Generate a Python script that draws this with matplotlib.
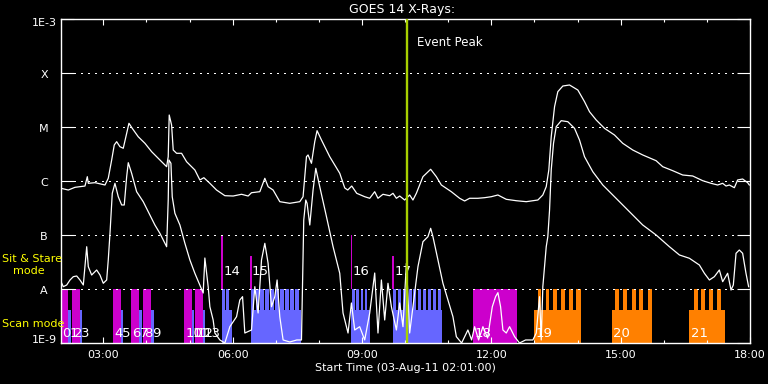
import matplotlib
matplotlib.use("Agg")
import matplotlib.pyplot as plt
from matplotlib.ticker import FixedLocator, NullLocator, FixedFormatter
import numpy as np

# ------------------------------------------------------------------ data
# GOES 14 long channel (1-8 A): decimal hours UT on 03-Aug-2011, log10 flux (W/m^2)
long_t = [2.017, 2.186, 2.341, 2.573, 2.627, 2.650, 2.805, 3.037, 3.113, 3.192,
          3.252, 3.308, 3.384, 3.461, 3.540, 3.593, 3.669, 3.808, 3.964, 4.119,
          4.311, 4.467, 4.504, 4.527, 4.582, 4.620, 4.698, 4.814, 4.930, 5.122,
          5.238, 5.331, 5.470, 5.625, 5.818, 6.010, 6.205, 6.358, 6.436, 6.629,
          6.745, 6.821, 6.937, 7.092, 7.324, 7.556, 7.632, 7.711, 7.748, 7.827,
          7.903, 7.957, 8.059, 8.251, 8.483, 8.599, 8.668, 8.761, 8.877, 9.062,
          9.178, 9.294, 9.370, 9.486, 9.641, 9.718, 9.797, 9.873, 9.989, 10.105,
          10.181, 10.260, 10.413, 10.592, 10.724, 10.840, 11.071, 11.264, 11.380, 11.496,
          11.688, 11.843, 11.998, 12.151, 12.346, 12.578, 12.810, 13.079, 13.194, 13.273,
          13.333, 13.389, 13.466, 13.542, 13.658, 13.813, 14.006, 14.161, 14.277, 14.432,
          14.624, 14.856, 15.048, 15.280, 15.512, 15.822, 15.975, 16.207, 16.439, 16.670,
          16.902, 17.097, 17.250, 17.366, 17.444, 17.521, 17.637, 17.713, 17.829, 17.945, 17.984]
long_logf = [-6.135, -6.167, -6.117, -6.093, -5.920, -6.043, -6.031, -6.074, -5.950, -5.611,
             -5.333, -5.272, -5.365, -5.394, -5.117, -4.931, -5.024, -5.180, -5.302, -5.457,
             -5.611, -5.735, -5.550, -4.778, -4.963, -5.426, -5.487, -5.487, -5.643, -5.796,
             -5.981, -5.939, -6.043, -6.167, -6.272, -6.278, -6.246, -6.278, -6.217, -6.198,
             -5.950, -6.105, -6.167, -6.383, -6.413, -6.383, -6.291, -5.550, -5.518, -5.672,
             -5.272, -5.068, -5.241, -5.550, -5.857, -6.129, -6.167, -6.093, -6.228, -6.291,
             -6.320, -6.198, -6.320, -6.246, -6.272, -6.228, -6.320, -6.278, -6.352, -6.259,
             -6.352, -6.228, -5.920, -5.783, -5.920, -6.074, -6.198, -6.320, -6.370, -6.320,
             -6.320, -6.309, -6.291, -6.259, -6.339, -6.365, -6.383, -6.352, -6.259, -6.105,
             -5.796, -5.180, -4.624, -4.346, -4.241, -4.222, -4.315, -4.531, -4.717, -4.870,
             -5.024, -5.148, -5.302, -5.426, -5.518, -5.624, -5.735, -5.809, -5.889, -5.907,
             -5.994, -6.043, -6.074, -6.043, -6.093, -6.074, -6.124, -5.981, -5.963, -6.031, -6.074]

# GOES 14 short channel (0.5-4 A)
short_t = [2.017, 2.070, 2.149, 2.226, 2.302, 2.381, 2.457, 2.534, 2.613, 2.650,
           2.728, 2.844, 2.921, 2.997, 3.076, 3.113, 3.153, 3.206, 3.268, 3.345,
           3.424, 3.484, 3.540, 3.577, 3.655, 3.771, 3.924, 4.040, 4.195, 4.311,
           4.427, 4.467, 4.504, 4.520, 4.567, 4.597, 4.659, 4.775, 4.891, 5.007,
           5.122, 5.238, 5.315, 5.354, 5.431, 5.470, 5.546, 5.586, 5.702, 5.818,
           5.934, 6.089, 6.165, 6.228, 6.281, 6.436, 6.513, 6.589, 6.668, 6.745,
           6.821, 6.900, 6.976, 7.030, 7.092, 7.169, 7.324, 7.486, 7.595, 7.648,
           7.695, 7.725, 7.788, 7.864, 7.927, 8.019, 8.175, 8.328, 8.483, 8.559,
           8.675, 8.754, 8.830, 8.946, 9.062, 9.178, 9.294, 9.370, 9.449, 9.526,
           9.602, 9.681, 9.797, 9.873, 9.950, 10.029, 10.105, 10.181, 10.297, 10.413,
           10.529, 10.592, 10.645, 10.761, 10.877, 10.993, 11.109, 11.188, 11.310, 11.456,
           11.542, 11.612, 11.704, 11.804, 11.913, 12.022, 12.098, 12.152, 12.214, 12.268,
           12.346, 12.423, 12.539, 12.654, 12.794, 12.963, 13.042, 13.118, 13.157, 13.194,
           13.273, 13.310, 13.350, 13.389, 13.442, 13.505, 13.621, 13.774, 13.929, 14.045,
           14.161, 14.353, 14.585, 14.817, 15.048, 15.280, 15.512, 15.822, 16.131, 16.363,
           16.594, 16.826, 16.942, 17.058, 17.173, 17.289, 17.366, 17.481, 17.560, 17.613,
           17.676, 17.752, 17.829, 17.907, 17.968]
short_logf = [-7.865, -7.957, -7.926, -7.833, -7.772, -7.759, -7.833, -7.926, -7.217, -7.587,
              -7.741, -7.648, -7.741, -7.894, -7.833, -7.463, -6.969, -6.228, -6.043, -6.291,
              -6.444, -6.444, -5.920, -5.661, -5.857, -6.198, -6.383, -6.568, -6.815, -6.969,
              -7.154, -7.217, -6.352, -5.611, -5.672, -6.291, -6.598, -6.815, -7.154, -7.463,
              -7.709, -7.926, -8.074, -7.426, -7.957, -8.328, -8.574, -8.815, -8.944, -9.000,
              -8.698, -8.513, -8.204, -8.142, -8.815, -8.759, -7.957, -8.444, -7.463, -7.154,
              -7.524, -8.328, -8.142, -7.833, -8.513, -8.944, -8.981, -8.944, -8.944, -6.722,
              -6.352, -6.413, -6.815, -6.167, -5.765, -6.105, -6.661, -7.217, -7.709, -8.444,
              -8.815, -8.259, -8.759, -8.698, -8.944, -8.444, -7.704, -8.815, -7.833, -8.574,
              -7.894, -8.328, -8.759, -8.259, -8.698, -7.524, -8.815, -8.328, -7.587, -7.124,
              -7.031, -6.876, -7.031, -7.463, -7.894, -8.204, -8.513, -8.883, -9.000, -8.759,
              -8.944, -8.698, -8.944, -8.698, -8.907, -8.328, -8.142, -8.068, -8.328, -8.759,
              -8.815, -8.698, -8.883, -9.000, -8.944, -8.944, -8.815, -8.142, -8.944, -7.957,
              -7.217, -7.031, -6.537, -5.796, -5.302, -4.994, -4.883, -4.902, -5.024, -5.241,
              -5.550, -5.828, -6.074, -6.259, -6.444, -6.630, -6.815, -7.000, -7.217, -7.370,
              -7.431, -7.556, -7.709, -7.833, -7.772, -7.648, -7.865, -7.709, -8.019, -7.926,
              -7.339, -7.278, -7.339, -7.709, -7.957]

# Observations (numbered 0..21): start / end (decimal hours) and mode
obs_num = list(range(22))
obs_start = [2.017, 2.186, 2.279, 2.450, 3.229, 3.407, 3.639, 3.825, 3.917, 4.096,
             4.874, 5.046, 5.122, 5.301, 5.748, 6.413, 8.754, 9.718, 11.572, 12.986,
             14.793, 16.594]
obs_end = [2.186, 2.242, 2.450, 2.497, 3.407, 3.461, 3.825, 3.887, 4.096, 4.165,
           5.046, 5.110, 5.301, 5.354, 5.980, 7.579, 9.178, 10.863, 12.601, 14.084,
           15.721, 17.422]
obs_mode = ['stare', 'scan', 'stare', 'scan', 'stare', 'scan', 'stare', 'scan', 'stare', 'scan',
            'stare', 'scan', 'stare', 'scan', 'scan', 'scan', 'scan', 'scan', 'stare', 'scan2',
            'scan2', 'scan2']

# raster steps (start, end) in hours of the scan observations
raster_steps = {
    14: [(5.748, 5.810), (5.848, 5.917)],
    15: [(6.413, 6.485), (6.529, 6.601), (6.640, 6.717), (6.756, 6.833), (6.872, 6.949),
         (6.988, 7.065), (7.104, 7.180), (7.220, 7.296), (7.336, 7.412), (7.452, 7.533)],
    16: [(8.768, 8.837), (8.870, 8.930), (8.970, 9.030), (9.062, 9.124)],
    17: [(9.718, 9.788), (9.834, 9.904), (9.950, 10.019), (10.082, 10.152), (10.191, 10.258),
         (10.307, 10.374), (10.423, 10.490), (10.539, 10.606), (10.654, 10.722), (10.770, 10.824)],
    19: [(13.078, 13.157), (13.257, 13.333), (13.426, 13.519), (13.605, 13.697), (13.790, 13.883),
         (13.975, 14.084)],
    20: [(14.879, 14.972), (15.065, 15.157), (15.257, 15.350), (15.435, 15.528), (15.628, 15.721)],
    21: [(16.694, 16.787), (16.872, 16.965), (17.058, 17.150), (17.236, 17.329)],
}

# short sit-and-stare markers preceding some scans
marker_obs = [14, 15, 16, 17]
marker_t = [5.732, 6.397, 8.737, 9.695]
marker_top_log = [-7.0, -7.39, -7.0, -7.39]

event_peak_t = 10.036

x_major = [3, 6, 9, 12, 15, 18]
x_major_labels = ['03:00', '06:00', '09:00', '12:00', '15:00', '18:00']
x_minor = [4, 5, 7, 8, 10, 11, 13, 14, 16, 17]
y_decades = [1e-9, 1e-8, 1e-7, 1e-6, 1e-5, 1e-4, 1e-3]
y_labels = ['1E-9', 'A', 'B', 'C', 'M', 'X', '1E-3']

title = 'GOES 14 X-Rays:'
xlabel = 'Start Time (03-Aug-11 02:01:00)'

# ------------------------------------------------------------------ style
MAG = '#cc00cc'
BLUE = '#6666ff'
ORANGE = '#ff8000'
GREEN = '#a8d000'
YELLOW = '#ffff00'
PT = 0.72  # points per pixel at 100 dpi

W, H, DPI = 768, 384, 100
fig = plt.figure(figsize=(W / DPI, H / DPI), dpi=DPI, facecolor='black')
ax = fig.add_axes([61 / W, (H - 343) / H, 689 / W, 324 / H], facecolor='black')
ax.set_yscale('log')
ax.set_xlim(2 + 1 / 60, 18.0)
ax.set_ylim(1e-9, 1e-3)

for sp in ax.spines.values():
    sp.set_color('white')
    sp.set_linewidth(1.0)

ax.xaxis.set_major_locator(FixedLocator(x_major))
ax.xaxis.set_major_formatter(FixedFormatter(x_major_labels))
ax.xaxis.set_minor_locator(FixedLocator(x_minor))
ax.tick_params(axis='x', which='major', direction='in', length=6 * PT, width=0.8,
               color='white', top=True, bottom=True, labelcolor='white',
               labelsize=8, pad=5)
ax.tick_params(axis='x', which='minor', direction='in', length=3 * PT, width=0.8,
               color='white', top=True, bottom=True)
ax.yaxis.set_major_locator(FixedLocator(y_decades))
ax.yaxis.set_minor_locator(NullLocator())
ax.tick_params(axis='y', which='major', direction='in', length=13 * PT, width=0.8,
               color='white', left=True, right=True, labelleft=False)

ytrans = ax.get_yaxis_transform()
for val, lab in zip(y_decades, y_labels):
    dy = -1.5
    if lab == '1E-3':
        dy = -4.5
    elif lab == '1E-9':
        dy = 3.0
    ax.annotate(lab, xy=(0, val), xycoords=ytrans, xytext=(-17 * PT, dy * PT),
                textcoords='offset points', ha='center', va='center',
                color='white', fontsize=8)

# dotted class levels
for val in y_decades[1:-1]:
    ax.axhline(val, xmin=13 / 689, xmax=1 - 14 / 689, color='white', lw=0.75,
               dashes=(1, 5.4), antialiased=False, zorder=1.5)

# observation bars
base_top = 10 ** -8.39
stare_top = 1e-8
for i, s, e, m in zip(obs_num, obs_start, obs_end, obs_mode):
    if m == 'stare':
        ax.bar(s, stare_top - 1e-9, width=e - s, bottom=1e-9, align='edge',
               color=MAG, lw=0, zorder=1, antialiased=False)
    else:
        col = ORANGE if m == 'scan2' else BLUE
        ax.bar(s, base_top - 1e-9, width=e - s, bottom=1e-9, align='edge',
               color=col, lw=0, zorder=1, antialiased=False)
        for ss, se in raster_steps.get(i, []):
            ax.bar(ss, stare_top - 1e-9, width=se - ss, bottom=1e-9, align='edge',
                   color=col, lw=0, zorder=1, antialiased=False)

for i, mt, top in zip(marker_obs, marker_t, marker_top_log):
    ax.bar(mt, 10 ** top - stare_top, width=0.04, bottom=stare_top, align='edge',
           color=MAG, lw=0, zorder=1, antialiased=False)

# curves
ax.plot(long_t, 10 ** np.array(long_logf), color='white', lw=0.9, zorder=3)
ax.plot(short_t, 10 ** np.array(short_logf), color='white', lw=0.9, zorder=3)

# observation numbers
for i, s in zip(obs_num, obs_start):
    ylev = 10 ** -7.685 if i in marker_obs else 10 ** -8.815
    ax.annotate(str(i), xy=(s, ylev), xytext=(1, 0), textcoords='offset points',
                ha='left', va='center', color='white', fontsize=9.5, zorder=4)

# event peak
ax.axvline(event_peak_t, color=GREEN, lw=1.7, zorder=6)
ax.annotate('Event Peak', xy=(event_peak_t, 1e-3), xytext=(10 * PT, -24 * PT),
            textcoords='offset points', ha='left', va='center', color='white',
            fontsize=8.5)

fig.text(402 / W, 1 - 10 / H, title, ha='center', va='center', color='white', fontsize=9)
fig.text(405 / W, 1 - 368 / H, xlabel, ha='center', va='center', color='white', fontsize=8)
fig.text(2 / W, 1 - 259 / H, 'Sit & Stare', ha='left', va='center', color=YELLOW, fontsize=8)
fig.text(13 / W, 1 - 271 / H, 'mode', ha='left', va='center', color=YELLOW, fontsize=8)
fig.text(2 / W, 1 - 324 / H, 'Scan mode', ha='left', va='center', color=YELLOW, fontsize=8)

fig.savefig('out.png', dpi=DPI, facecolor='black')
